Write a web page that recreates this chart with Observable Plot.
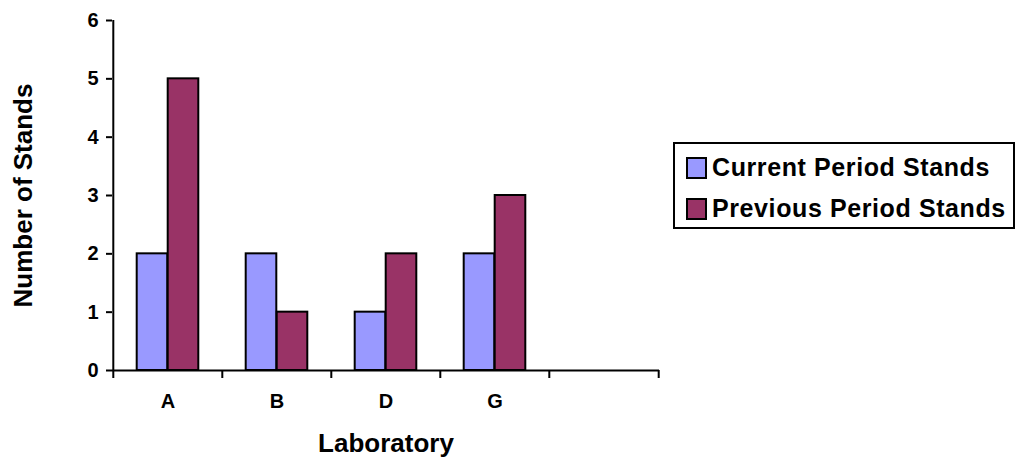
<!DOCTYPE html>
<html>
<head>
<meta charset="utf-8">
<script src="https://cdn.jsdelivr.net/npm/d3@7"></script>
<script src="https://cdn.jsdelivr.net/npm/@observablehq/plot@0.6"></script>
<style>
  html, body { margin: 0; padding: 0; background: #fff; }
  #wrap { position: relative; width: 1019px; height: 460px; font-family: "Liberation Sans", Arial, sans-serif; }
  #legend { position: absolute; left: 673px; top: 142px; width: 338px; height: 83px; border: 2px solid #000; background: #fff; box-sizing: content-box; }
  .item { position: absolute; left: 11px; display: flex; align-items: center; font-weight: bold; font-size: 25px; letter-spacing: 0.6px; color: #000; white-space: nowrap; line-height: 1; }
  .sw { width: 17px; height: 18px; border: 2px solid #000; margin-right: 5px; }
</style>
</head>
<body>
<div id="wrap"></div>
<script>
const labs = ["A", "B", "D", "G", ""];
const series = ["Current Period Stands", "Previous Period Stands"];
const current = [2, 2, 1, 2];
const previous = [5, 1, 2, 3];
const colors = ["#9999FF", "#993366"];
const yTicks = [0, 1, 2, 3, 4, 5, 6];

const rows = [];
[current, previous].forEach((vals, s) => vals.forEach((v, i) => rows.push({lab: labs[i], series: series[s], value: v})));

const W = 1019, H = 460, ML = 112, MR = 360, MT = 20, MB = 90;
const step = (W - ML - MR) / labs.length;
const barW = 31;
const pad = (step - 2 * barW) / 2;
const font = "Liberation Sans, Arial, sans-serif";

const plot = Plot.plot({
  width: W, height: H,
  marginLeft: ML, marginRight: MR, marginTop: MT, marginBottom: MB,
  style: {fontFamily: font, fontWeight: "bold", color: "#000", background: "#fff"},
  x: {domain: labs, padding: 0, axis: null},
  y: {domain: [0, 6], axis: null},
  color: {domain: series, range: colors},
  marks: [
    Plot.barY(rows.filter(d => d.series === series[0]), {x: "lab", y: "value", fill: "series", stroke: "#000", strokeWidth: 2, insetLeft: pad, insetRight: step - pad - barW}),
    Plot.barY(rows.filter(d => d.series === series[1]), {x: "lab", y: "value", fill: "series", stroke: "#000", strokeWidth: 2, insetLeft: pad + barW, insetRight: pad}),
    Plot.ruleY([0], {stroke: "#000", strokeWidth: 2}),
    Plot.ruleX([labs[0]], {x: d => d, dx: -step / 2, y1: 0, y2: 6, stroke: "#000", strokeWidth: 2}),
    Plot.ruleX(labs, {x: d => d, dx: -step / 2, y1: 0, y2: 0, insetBottom: -8, stroke: "#000", strokeWidth: 2}),
    Plot.ruleX([labs[labs.length - 1]], {x: d => d, dx: step / 2, y1: 0, y2: 0, insetBottom: -8, stroke: "#000", strokeWidth: 2}),
    Plot.axisY(yTicks, {anchor: "left", tickSize: 6, strokeWidth: 2, tickFormat: () => "", label: null}),
    Plot.text(yTicks, {y: d => d, frameAnchor: "left", textAnchor: "end", lineAnchor: "middle", dx: -14, text: d => String(d), fontSize: 20, fontWeight: "bold", fill: "#000"}),
    Plot.text(labs, {x: d => d, frameAnchor: "bottom", textAnchor: "middle", lineAnchor: "middle", dy: 31, text: d => d, fontSize: 20, fontWeight: "bold", fill: "#000"}),
    Plot.text(["Number of Stands"], {frameAnchor: "left", textAnchor: "middle", lineAnchor: "middle", dx: -89, rotate: -90, text: d => d, fontSize: 26, fontWeight: "bold", fill: "#000"}),
    Plot.text(["Laboratory"], {frameAnchor: "bottom", textAnchor: "middle", lineAnchor: "middle", dy: 73, text: d => d, fontSize: 26, fontWeight: "bold", fill: "#000"})
  ]
});

const wrap = document.getElementById("wrap");
wrap.appendChild(plot);

const legend = document.createElement("div");
legend.id = "legend";
series.forEach((s, i) => {
  const it = document.createElement("div");
  it.className = "item";
  it.style.top = (i === 0 ? 11 : 52) + "px";
  const sw = document.createElement("div");
  sw.className = "sw";
  sw.style.background = colors[i];
  const t = document.createElement("span");
  t.textContent = s;
  it.appendChild(sw); it.appendChild(t);
  legend.appendChild(it);
});
wrap.appendChild(legend);
</script>
</body>
</html>
